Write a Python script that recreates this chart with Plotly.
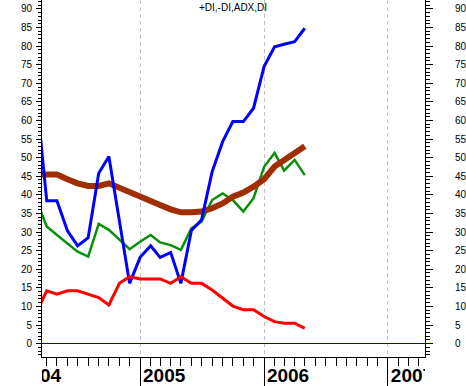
import pandas as pd
import plotly.graph_objects as go

# ---- data (monthly, first observation partly outside the visible window) ----
dates = pd.date_range("2004-03-01", periods=27, freq="MS")
plus_di = [67, 38.4, 38.4, 30.3, 26.3, 28.5, 45.8, 50.3, 33, 16.2,
           23.2, 26.3, 23.2, 24.5, 16.2, 30.4, 33.3, 46.2, 54.3, 59.7, 59.7, 63.3,
           74.5, 79.8, 80.5, 81.2, 84.8]
minus_di = [38.7, 31.5, 29.2, 27.0, 24.7, 23.4, 32.2, 30.6, 27.9, 25.4,
            27.4, 29.2, 27.2, 26.5, 25.2, 31.0, 32.8, 38.6, 40.4, 38.6, 35.5, 39.1,
            47.5, 51.3, 46.5, 49.4, 45.3]
di_red = [8.3, 14.2, 13.3, 14.2, 14.2, 13.3, 12.4, 10.4, 16.2, 18.0,
          17.4, 17.4, 17.4, 16.2, 18.0, 16.2, 16.2, 14.4, 12.2, 10.1, 9.1, 9.1,
          7.3, 5.9, 5.5, 5.5, 4.1]
adx = [45.5, 45.5, 45.5, 44.2, 43.1, 42.4, 42.4, 43.1, 42.0, 40.6,
       39.5, 38.6, 37.3, 36.1, 35.3, 35.3, 35.5, 36.4, 37.7, 39.5, 40.6, 42.2,
       44.2, 47.6, 49.4, 51.2, 53.1]

year_ticks = ["2004-01-01", "2005-01-01", "2006-01-01", "2007-01-01"]
year_labels = ["2004", "2005", "2006", "2007"]
title_text = "+DI,-DI,ADX,DI"

X_RANGE = ["2004-03-18", "2007-04-20"]
Y_RANGE = [-3.6, 92.4]

W, H = 466, 386
ML, MR = 42, 41
BOTTOM_BAND = 29
FONT = "Liberation Sans, Arial, sans-serif"

fig = go.Figure()

fig.add_trace(go.Scatter(x=dates, y=minus_di, mode="lines",
                         line=dict(color="#0a8f0a", width=2.5), hoverinfo="skip"))
fig.add_trace(go.Scatter(x=dates, y=adx, mode="lines",
                         line=dict(color="#a02e00", width=6), hoverinfo="skip"))
fig.add_trace(go.Scatter(x=dates, y=plus_di, mode="lines",
                         line=dict(color="#0000ff", width=3), hoverinfo="skip"))
fig.add_trace(go.Scatter(x=dates, y=di_red, mode="lines",
                         line=dict(color="#ff0000", width=3), hoverinfo="skip"))

# dummy trace so the right-hand axis gets drawn
fig.add_trace(go.Scatter(x=[dates[0]], y=[None], yaxis="y3", mode="lines",
                         hoverinfo="skip", showlegend=False))

# year labels in the bottom band, clipped to the plot width
fig.add_trace(go.Scatter(x=year_ticks, y=[0.30] * len(year_ticks), text=year_labels,
                         mode="markers+text", textposition="middle right",
                         marker=dict(size=3, color="rgba(0,0,0,0)"),
                         textfont=dict(family=FONT, size=19, color="black", weight="bold"),
                         cliponaxis=True, xaxis="x2", yaxis="y2", hoverinfo="skip"))

ytick_common = dict(range=Y_RANGE, dtick=5, tick0=0, showline=True, linecolor="black",
                    linewidth=1, ticks="outside", tickcolor="black", showgrid=False,
                    automargin=False,
                    tickfont=dict(family=FONT, size=10, color="black"))

fig.update_layout(
    width=W, height=H, autosize=False,
    margin=dict(l=ML, r=MR, t=0, b=0, pad=0),
    paper_bgcolor="white", plot_bgcolor="white",
    showlegend=False, hovermode=False,
    xaxis=dict(domain=[0, 1], anchor="y", type="date", range=X_RANGE, automargin=False,
               showline=True, linecolor="black", linewidth=1,
               ticks="outside", ticklen=8, tickcolor="black",
               dtick="M12", tick0="2004-01-01", showticklabels=False,
               showgrid=True, gridcolor="#c0c0c0", gridwidth=1, griddash="4px,3px",
               minor=dict(dtick="M1", tick0="2004-01-01", ticks="outside", ticklen=8,
                          tickcolor="black", showgrid=False),
               zeroline=False),
    yaxis=dict(domain=[BOTTOM_BAND / H, 1], anchor="x", side="left",
               ticklen=5, ticklabelstandoff=2,
               minor=dict(dtick=1, ticks="outside", ticklen=3, tickcolor="black"),
               zeroline=True, zerolinecolor="#0000b4", zerolinewidth=1,
               **ytick_common),
    yaxis3=dict(overlaying="y", anchor="x", side="right",
                ticklen=7, ticklabelstandoff=20,
                minor=dict(dtick=1, ticks="outside", ticklen=4, tickcolor="black"),
                zeroline=False, **ytick_common),
    xaxis2=dict(domain=[0, 1], anchor="y2", type="date", matches="x", automargin=False,
                showline=False, ticks="", showticklabels=False,
                dtick="M12", tick0="2004-01-01",
                showgrid=True, gridcolor="black", gridwidth=1, zeroline=False),
    yaxis2=dict(domain=[0, BOTTOM_BAND / H], anchor="x2", range=[0, 1], automargin=False,
                showgrid=False, zeroline=False, showticklabels=False, showline=False,
                ticks=""),
    annotations=[dict(text=title_text, xref="paper", yref="paper",
                      x=(232.5 - ML) / (W - ML - MR), y=1 - 8 / H,
                      xanchor="center", yanchor="middle", showarrow=False,
                      font=dict(family=FONT, size=10, color="black"))],
)

fig.write_html("out.html",
               config={"displayModeBar": False, "staticPlot": True},
               post_script="document.body.style.margin='0';document.body.style.overflow='hidden';")
